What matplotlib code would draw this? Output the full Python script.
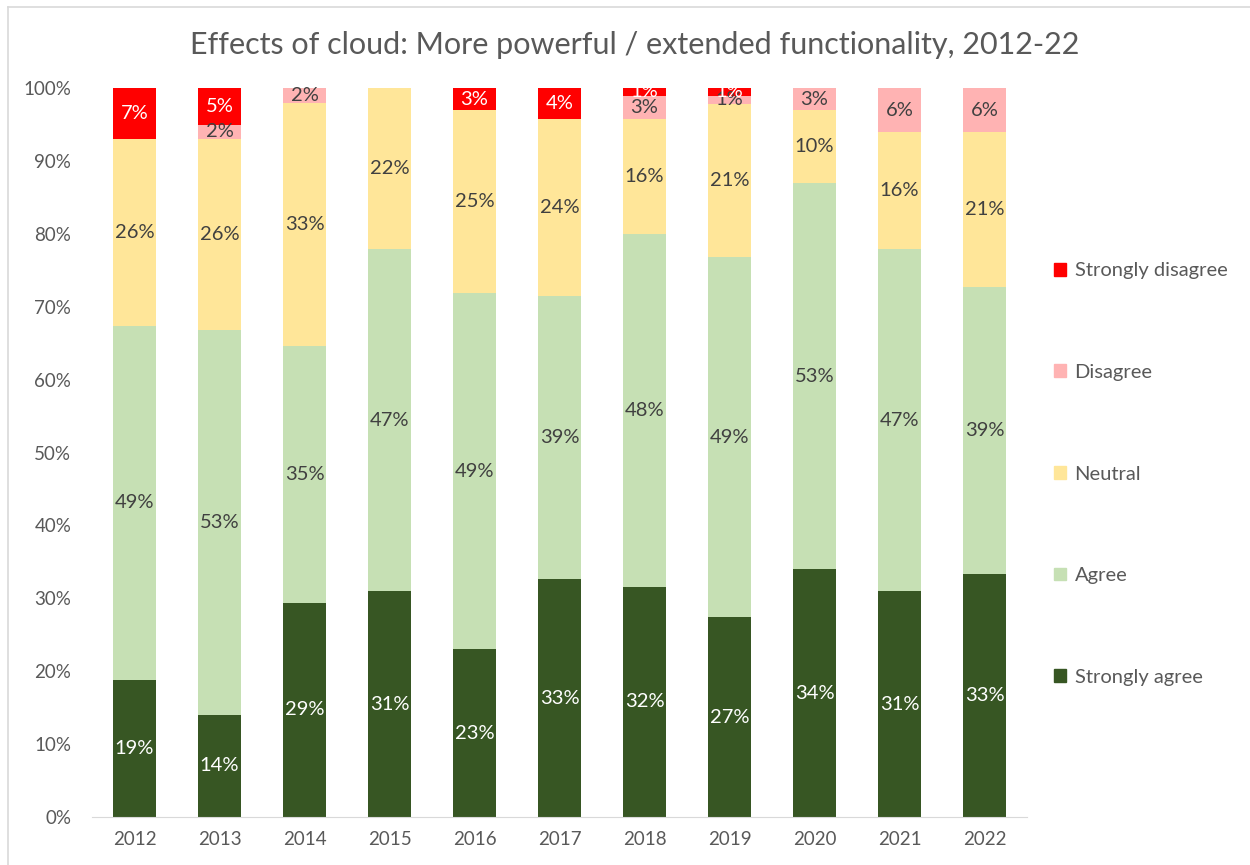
import matplotlib.pyplot as plt
from matplotlib.lines import Line2D
from matplotlib.patches import Patch
import numpy as np

plt.rcParams['font.family'] = ['Lato', 'DejaVu Sans']

years = ['2012', '2013', '2014', '2015', '2016', '2017', '2018', '2019', '2020', '2021', '2022']

# shares in percent, bottom to top
strongly_agree = [18.8, 14.0, 29.4, 31.0, 23.0, 32.6, 31.6, 27.4, 34.0, 31.0, 33.3]
agree = [48.6, 52.8, 35.2, 46.9, 48.9, 38.9, 48.4, 49.4, 53.0, 46.9, 39.4]
neutral = [25.6, 26.2, 33.4, 22.1, 25.1, 24.3, 15.8, 21.1, 10.0, 16.1, 21.3]
disagree = [0.0, 2.0, 2.0, 0.0, 0.0, 0.0, 3.2, 1.1, 3.0, 6.0, 6.0]
strongly_disagree = [7.0, 5.0, 0.0, 0.0, 3.0, 4.2, 1.0, 1.0, 0.0, 0.0, 0.0]

series = [
    ('Strongly agree', strongly_agree, '#375623', 'white'),
    ('Agree', agree, '#C6E0B4', '#404040'),
    ('Neutral', neutral, '#FFE699', '#404040'),
    ('Disagree', disagree, '#FFB3B3', '#404040'),
    ('Strongly disagree', strongly_disagree, '#FF0000', 'white'),
]

fig = plt.figure(figsize=(12.5, 8.65), dpi=100)
ax = fig.add_axes([0.0736, 0.0555, 0.748, 0.8425])

x = np.arange(len(years))
bottom = np.zeros(len(years))
for name, vals, color, txt in series:
    vals = np.array(vals)
    ax.bar(x, vals, width=0.5, bottom=bottom, color=color, label=name)
    for xi, v, b in zip(x, vals, bottom):
        if v > 0:
            ax.text(xi, b + v / 2, f'{round(v):.0f}%', ha='center', va='center',
                    color=txt, fontsize=14.5)
    bottom += vals

ax.set_xlim(-0.5, len(years) - 0.5)
ax.set_ylim(0, 100)
ax.set_xticks(x)
ax.set_xticklabels(years)
ax.set_yticks(range(0, 101, 10))
ax.set_yticklabels([f'{t}%' for t in range(0, 101, 10)])
ax.tick_params(axis='both', length=0, labelsize=13.5, colors='#595959')
ax.tick_params(axis='x', pad=10)
ax.tick_params(axis='y', pad=15)
for s in ['top', 'right', 'left']:
    ax.spines[s].set_visible(False)
ax.spines['bottom'].set_color('#D9D9D9')

fig.text(0.508, 0.948, 'Effects of cloud: More powerful / extended functionality, 2012-22',
         ha='center', va='center', fontsize=22, color='#595959')

handles = [Patch(color=c) for _, _, c, _ in series][::-1]
labels = [n for n, _, _, _ in series][::-1]
fig.legend(handles, labels, loc='center left', bbox_to_anchor=(0.829, 0.452),
           frameon=False, fontsize=14.5, labelcolor='#595959', labelspacing=4.2,
           handlelength=0.6, handleheight=0.6, handletextpad=0.4)

# chart border
fig.add_artist(Line2D([0.006, 0.006], [0, 0.992], color='#D9D9D9', lw=1.2))
fig.add_artist(Line2D([0.006, 1], [0.992, 0.992], color='#D9D9D9', lw=1.2))

fig.savefig('out.png', dpi=100)
